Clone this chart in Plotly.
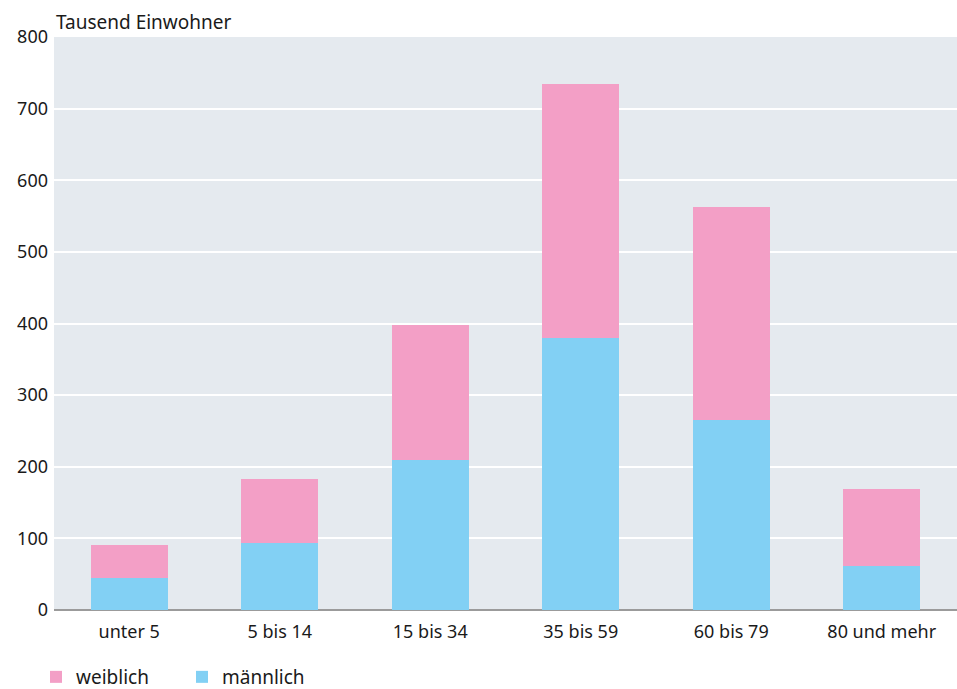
import plotly.graph_objects as go

# -------------------- Data --------------------

age_groups = ["unter 5", "5 bis 14", "15 bis 34", "35 bis 59", "60 bis 79", "80 und mehr"]
maennlich = [45, 93, 209, 380, 265, 61]
weiblich = [46, 90, 189, 355, 298, 108]

y_ticks = [0, 100, 200, 300, 400, 500, 600, 700, 800]

FONT = "Noto Sans, Open Sans, sans-serif"

# -------------------- Figure --------------------

fig = go.Figure()

fig.add_trace(go.Bar(
    x=age_groups, y=maennlich, name="männlich",
    marker=dict(color="#82D0F4", line=dict(width=0)),
))
fig.add_trace(go.Bar(
    x=age_groups, y=weiblich, name="weiblich",
    marker=dict(color="#F39FC6", line=dict(width=0)),
))

fig.update_layout(
    width=957, height=689,
    barmode="stack",
    bargap=0.49,
    paper_bgcolor="white",
    plot_bgcolor="#E5EAEF",
    margin=dict(l=54, r=0, t=37, b=79, autoexpand=False),
    font=dict(family=FONT, size=18, color="#1a1a1a"),
    showlegend=True,
    legend=dict(
        orientation="h", traceorder="reversed",
        x=(36 - 54) / 903, xanchor="left", xref="paper",
        y=-(677 - 610) / 573, yanchor="middle", yref="paper",
        entrywidth=101, entrywidthmode="pixels",
        font=dict(size=19), itemwidth=30,
    ),
    annotations=[dict(
        text="Tausend Einwohner", xref="paper", yref="paper",
        x=0.0, y=1.0, xanchor="left", yanchor="bottom", yshift=0,
        showarrow=False, font=dict(size=19),
    )],
)

fig.update_xaxes(
    showgrid=False, ticks="", tickfont=dict(size=18),
    showline=False, ticklabelstandoff=9,
)
fig.update_yaxes(
    range=[0, 800], tickvals=y_ticks,
    gridcolor="white", gridwidth=2,
    zeroline=True, zerolinecolor="#9B9B9B", zerolinewidth=2,
    tickfont=dict(size=18), ticks="", ticklabelstandoff=5,
)

fig.write_html(
    "out.html",
    config={"displayModeBar": False},
    post_script="document.body.style.margin='0';",
)
